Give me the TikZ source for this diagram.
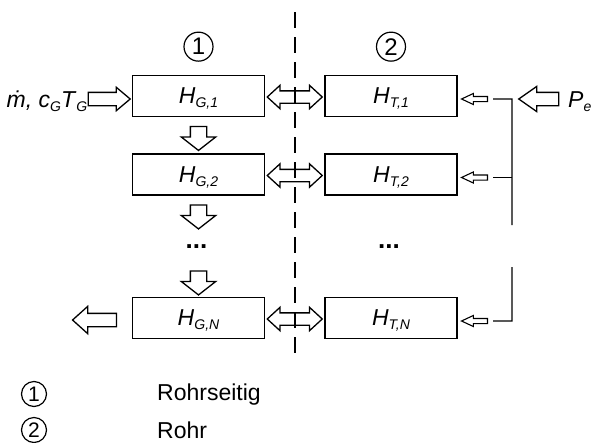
\documentclass[tikz,border=0pt]{standalone}
\usepackage{fontspec}
\setmainfont{Liberation Sans}
\usetikzlibrary{positioning}
\usetikzlibrary{calc}
\usetikzlibrary{shapes.arrows}

\newcommand{\hsub}[1]{\raisebox{-4pt}[0pt][0pt]{\fontsize{14}{14}\selectfont\itshape #1}}

\begin{document}
\begin{tikzpicture}[
        x=1pt, y=-1pt,
        node distance=36pt,
        font=\fontsize{23}{26}\selectfont,
        cellbox/.style={draw=black, line width=1.5pt, minimum width=132pt, minimum height=41pt, inner sep=0pt},
        numcircle/.style={circle, draw=black, line width=1.2pt, minimum size=29pt, inner sep=0pt, font=\fontsize{24}{24}\selectfont},
        hollow/.style={draw=black, line width=1.3pt, single arrow, minimum width=0pt, inner xsep=0pt},
        inarrow/.style={hollow, inner ysep=6pt, single arrow head extend=5pt, single arrow tip angle=80, minimum height=42pt},
        downarrow/.style={hollow, inner sep=7.5pt, single arrow head extend=9pt, single arrow tip angle=104, minimum height=24pt, shape border rotate=270},
        feedarrow/.style={hollow, line width=1.1pt, inner ysep=2pt, single arrow head extend=3pt, single arrow tip angle=50, minimum height=26pt, shape border rotate=180},
        swaparrow/.style={draw=black, line width=1.3pt, double arrow, minimum width=0pt, inner xsep=0pt, inner ysep=5.5pt, double arrow head extend=5.5pt, double arrow tip angle=85, minimum height=55pt},
        dotstext/.style={font=\fontsize{26}{26}\selectfont\bfseries},
        busline/.style={draw=black, line width=1.3pt},
        divider/.style={draw=black, line width=1.5pt, dash pattern=on 16pt off 9pt}
    ]

        \useasboundingbox (0,0) rectangle (593,442);
        \clip (0,0) rectangle (593,442);

        % boxes
        \node [cellbox] (g1) at (198.5,96) {\textit{H}\hsub{G,1}};
        \node [cellbox, right=59pt of g1] (t1) {\textit{H}\hsub{T,1}};
        \node [cellbox, below=36pt of g1] (g2) {\textit{H}\hsub{G,2}};
        \node [cellbox, right=59pt of g2] (t2) {\textit{H}\hsub{T,2}};
        \node [cellbox, below=101pt of g2] (gN) {\textit{H}\hsub{G,N}};
        \node [cellbox, right=59pt of gN] (tN) {\textit{H}\hsub{T,N}};

        \node [numcircle, above=13pt of g1] (c1) {1};
        \node [numcircle, above=13pt of t1] (c2) {2};

        \draw [divider] (295,12) -- (295,357);

        % exchange between the two sides
        \node [swaparrow] (x1) at ($(g1.east)!.5!(t1.west)+(0,1)$) {};
        \node [swaparrow] (x2) at ($(g2.east)!.5!(t2.west)+(0,1)$) {};
        \node [swaparrow] (xN) at ($(gN.east)!.5!(tN.west)+(0,1)$) {};

        % flow down the left column
        \node [inarrow] (ia) at ($(g1.west)+(-26.5,3)$) {};
        \node [anchor=base east, inner sep=0pt] (mdot) at ($(ia.tail)+(0,8.5)$) {\textit{\.{m}, c}\hsub{G}\textit{T}\hsub{G}};
        \node [downarrow] (d1) at ($(g1.south)!.5!(g2.north)$) {};
        \node [downarrow] (d2) at ($(g2.south)+(0,18)$) {};
        \node [dotstext] (dotsg) at ($(g2.south)+(-2,51)$) {...};
        \node [downarrow] (d3) at ($(gN.north)+(0,-17)$) {};
        \node [inarrow, shape border rotate=180, single arrow head extend=7pt, single arrow tip angle=84, minimum height=44pt] (oa) at ($(gN.west)+(-33.5,2)$) {};

        % feed on the right
        \node [feedarrow] (s1) at ($(t1.east)+(19.5,3)$) {};
        \node [feedarrow] (s2) at ($(t2.east)+(19.5,3)$) {};
        \node [feedarrow] (sN) at ($(tN.east)+(19.5,3)$) {};
        \node [dotstext] (dotst) at ($(t2.south)+(-2,51)$) {...};

        \coordinate (k1) at ($(s1.tail)+(5,0)$);
        \coordinate (k2) at ($(s2.tail)+(5,0)$);
        \coordinate (kN) at ($(sN.tail)+(5,0)$);
        \coordinate (b1) at ($(k1)+(19,0)$);
        \coordinate (b2) at ($(k2)+(19,0)$);
        \coordinate (bN) at ($(kN)+(19,0)$);
        \draw [busline] (k1) -- (b1) -- (512,225);
        \draw [busline] (k2) -- (b2);
        \draw [busline] (512,267) -- (bN) -- (kN);

        \node [inarrow, shape border rotate=180, single arrow head extend=6pt, single arrow tip angle=70, minimum height=40pt] (pa) at (543.5,99) {};
        \node [anchor=base west, inner sep=0pt] (pe) at (568,107.5) {\textit{P}\hsub{e}};

        % legend
        \node [numcircle, minimum size=25pt, font=\fontsize{21}{21}\selectfont] (l1) at (34,394) {1};
        \node [numcircle, minimum size=25pt, font=\fontsize{21}{21}\selectfont] (l2) at (34,430) {2};
        \node [anchor=base west, inner sep=0pt] (r1) at (157,400) {Rohrseitig};
        \node [anchor=base west, inner sep=0pt] (r2) at (157,438) {Rohr};

    \end{tikzpicture}
\end{document}
